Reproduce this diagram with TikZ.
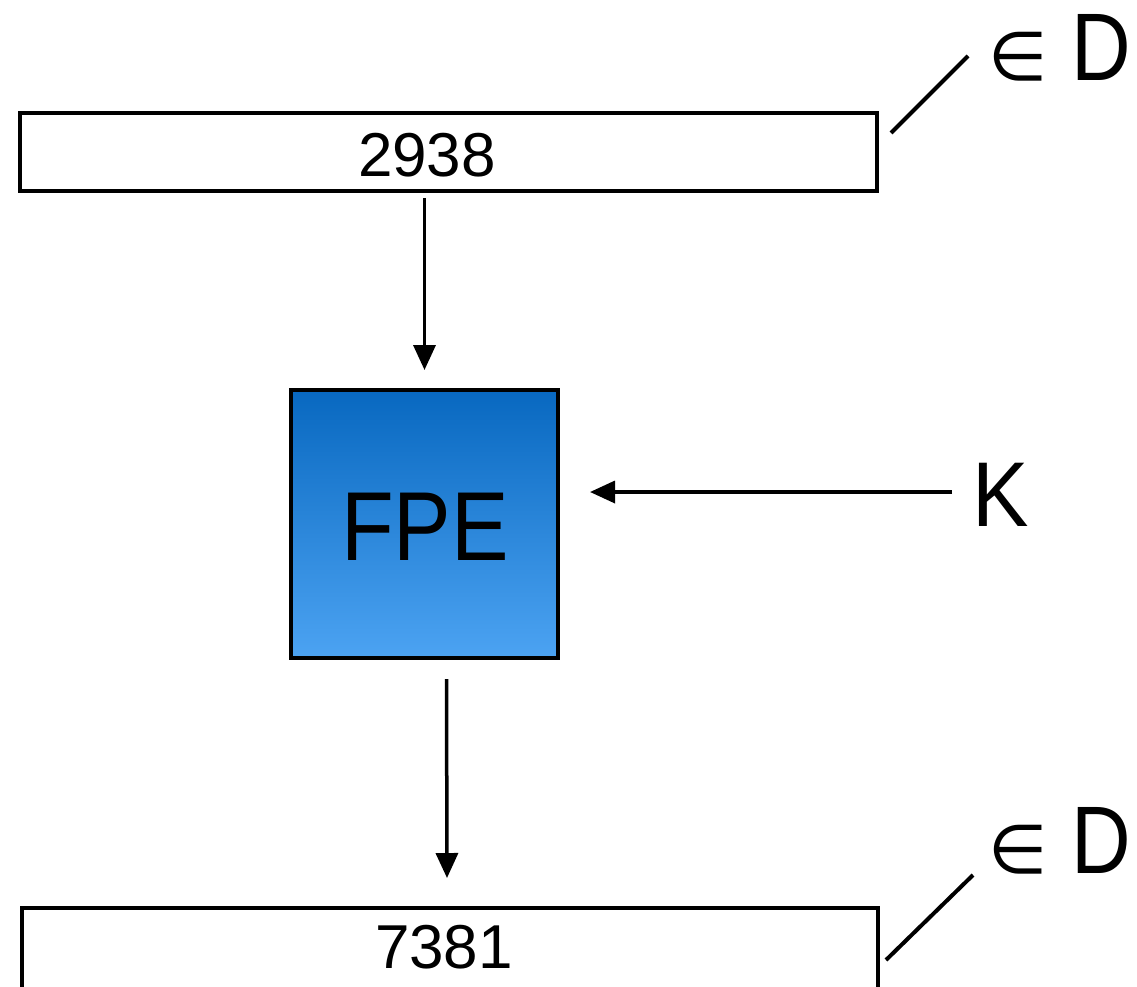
\documentclass[tikz,border=0pt]{standalone}
\usepackage{fontspec}
\setmainfont{Liberation Sans}
\newfontfamily\symfont{DejaVu Sans}
\usetikzlibrary{arrows.meta,calc}
\definecolor{fpetop}{RGB}{8,104,192}
\definecolor{fpebot}{RGB}{76,163,242}
\tikzset{
  valbox/.style={draw=black,line width=4pt,fill=white,minimum width=857pt,minimum height=78pt,inner sep=0pt},
  conn/.style={line width=3.5pt,-{Triangle[length=25pt,width=22pt]}},
  tick/.style={line width=4pt},
  numtxt/.style={font=\fontsize{62}{62}\selectfont,inner sep=0pt},
  bigtxt/.style={font=\fontsize{92}{92}\selectfont,inner sep=0pt},
  domtxt/.style={inner sep=0pt,anchor=base west,font=\fontsize{96}{96}\selectfont},
}
\newcommand{\indom}{{\symfont\fontsize{68}{68}\selectfont ∈}\hspace{24pt}\scalebox{0.86}[1]{D}}
\begin{document}
\begin{tikzpicture}[x=1pt,y=-1pt]
\useasboundingbox (0,0) rectangle (1137,986);
% top value box
\node[valbox] (top) at (448.5,152) {};
\node[numtxt] (toptxt) at (427,155) {2938};
% FPE box
\node[draw=black,line width=4pt,top color=fpetop,bottom color=fpebot,minimum width=267pt,minimum height=268pt,inner sep=0pt] (fpe) at (424.5,524) {};
\node[inner sep=0pt,font=\fontsize{98}{98}\selectfont] (fpetxt) at (425,527) {\scalebox{0.88}[1]{FPE}};
% bottom value box
\node[valbox,minimum width=856pt,minimum height=84pt] (bot) at (450,950) {};
\node[numtxt] (bottxt) at (444,947) {7381};
% key
\node[bigtxt,anchor=west] (k) at (972,495) {\scalebox{0.92}[1]{K}};
% domain labels
\node[domtxt] (d1) at (988,80) {\indom};
\node[domtxt] (d2) at (988,873) {\indom};
% connectors
\draw[conn] (top.south -| fpe.north) ++(0,5) -- ($(fpe.north)+(0,-18)$);
\draw[conn] ($(fpe.south)+(22,19)$) -- ($(bot.north)+(-3,-28)$);
\draw[conn] ($(k.west)+(-20,-3)$) -- ($(fpe.east)+(30,-32)$);
\coordinate (t1a) at (891,133);
\coordinate (t1b) at (968,56);
\coordinate (t2a) at (886,960);
\coordinate (t2b) at (973,875);
\draw[tick] (t1a) -- (t1b);
\draw[tick] (t2a) -- (t2b);
\end{tikzpicture}
\end{document}
